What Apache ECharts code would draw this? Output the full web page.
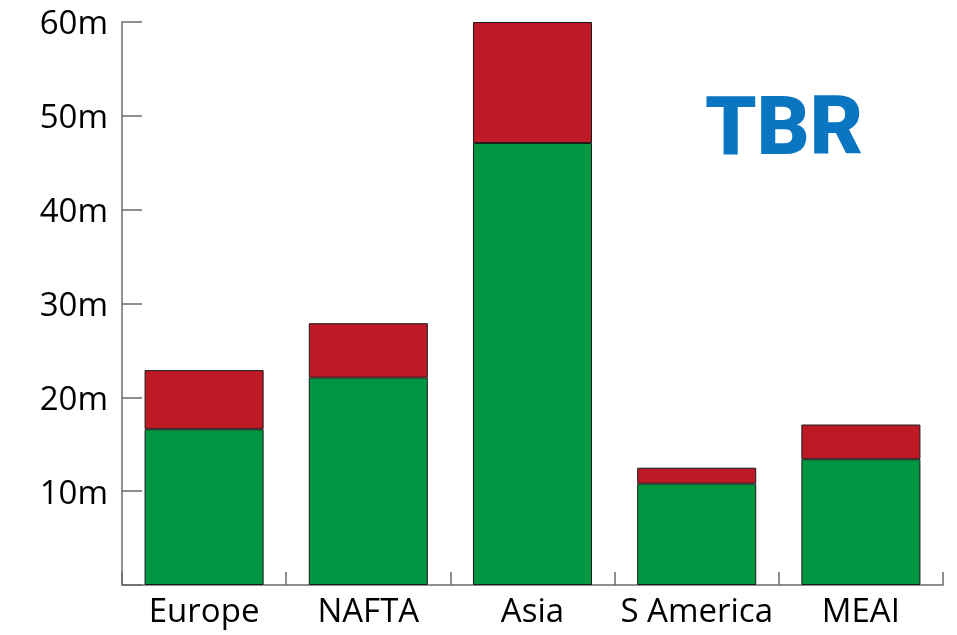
<!DOCTYPE html>
<html>
<head>
<meta charset="utf-8">
<script src="https://cdn.jsdelivr.net/npm/echarts@6/dist/echarts.min.js"></script>
<style>
  html, body { margin: 0; padding: 0; background: #fff; }
  #chart { width: 957px; height: 635px; }
</style>
</head>
<body>
<div id="chart"></div>
<script>
// Regions shown along the category axis
var regions = ['Europe', 'NAFTA', 'Asia', 'S America', 'MEAI'];
// Lower (green) segment of each stack, in millions
var baseValues = [16.6, 22.1, 47.1, 10.8, 13.4];
// Upper (red) segment stacked on top, in millions
var topValues = [6.3, 5.8, 12.9, 1.7, 3.7];
// Value axis ticks, in millions
var yTicks = [0, 10, 20, 30, 40, 50, 60];

var chart = echarts.init(document.getElementById('chart'), null, { renderer: 'canvas' });

var labelFont = '"Open Sans", "Noto Sans", sans-serif';
var axisGrey = '#6b6b6b';

chart.setOption({
  animation: false,
  grid: { left: 122, right: 14, top: 22, bottom: 50, containLabel: false },
  xAxis: {
    type: 'category',
    data: regions,
    boundaryGap: true,
    axisLine: { show: true, lineStyle: { color: axisGrey, width: 1.5 } },
    axisTick: { show: true, inside: true, length: 13, alignWithLabel: false, lineStyle: { color: axisGrey, width: 1.5 } },
    axisLabel: { interval: 0, color: '#000', fontFamily: labelFont, fontSize: 33, margin: 11 }
  },
  yAxis: {
    type: 'value',
    min: yTicks[0],
    max: yTicks[yTicks.length - 1],
    interval: yTicks[1] - yTicks[0],
    splitLine: { show: false },
    axisLine: { show: true, lineStyle: { color: axisGrey, width: 1.5 } },
    axisTick: { show: true, inside: true, length: 20, lineStyle: { color: axisGrey, width: 1.5 } },
    axisLabel: {
      margin: 14,
      formatter: function (v) { return v === 0 ? '' : '{t|' + v + 'm}'; },
      rich: {
        t: { color: '#000', fontFamily: labelFont, fontSize: 33, padding: [6, 0, 0, 0] }
      }
    }
  },
  series: [
    {
      name: 'base',
      type: 'bar',
      stack: 'total',
      data: baseValues,
      barWidth: '72.5%',
      itemStyle: { color: '#019641', borderColor: '#1a1a1a', borderWidth: 1 }
    },
    {
      name: 'top',
      type: 'bar',
      stack: 'total',
      data: topValues,
      barWidth: '72.5%',
      itemStyle: { color: '#be1a25', borderColor: '#1a1a1a', borderWidth: 1 }
    }
  ],
  graphic: [
    {
      type: 'text',
      left: 705,
      top: 92,
      style: {
        text: 'TBR',
        fill: '#0a76c2',
        font: '900 82px Roboto, "Noto Sans", sans-serif'
      }
    }
  ]
});
</script>
</body>
</html>
